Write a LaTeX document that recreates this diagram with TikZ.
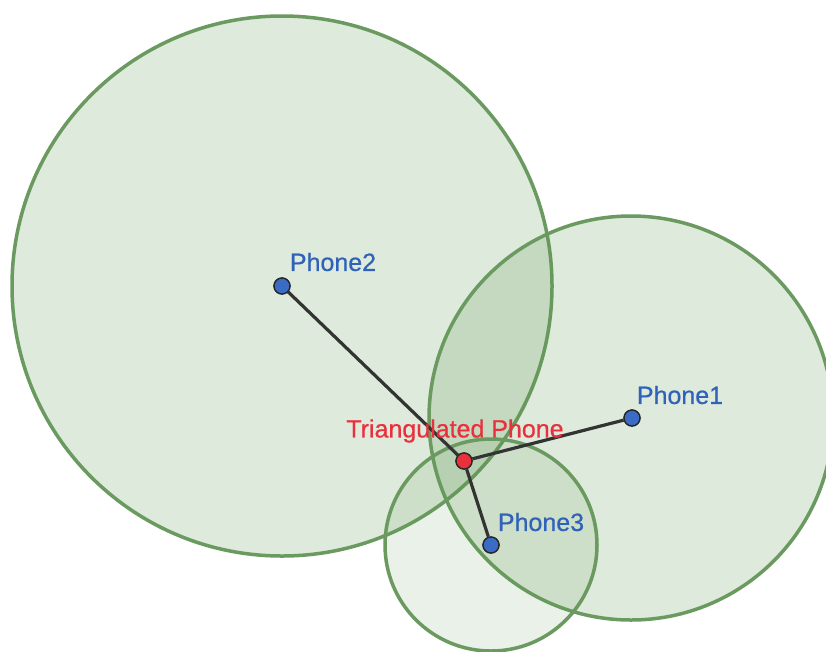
\documentclass[tikz,border=0pt]{standalone}
\usepackage{fontspec}
\setmainfont{Liberation Sans}
\definecolor{ringgreen}{HTML}{6A9A5F}
\definecolor{ringfill}{HTML}{5E9650}
\definecolor{phoneblue}{HTML}{3A6CC6}
\definecolor{labelblue}{HTML}{2F62B8}
\definecolor{trired}{HTML}{E8313D}
\definecolor{linkgray}{HTML}{333333}
\newfontfamily\labelfont[FakeBold=0.6]{Liberation Sans}
\tikzset{
  ring/.style={draw=ringgreen, line width=3.5pt, fill=ringfill, fill opacity=0.2},
  lightring/.style={ring, fill opacity=0.13},
  phonedot/.style={circle, draw=black!85, line width=1.3pt, fill=phoneblue, minimum size=16pt, inner sep=0pt},
  tridot/.style={phonedot, fill=trired},
  link/.style={draw=linkgray, line width=3.2pt},
  lbl/.style={font=\labelfont\fontsize{25}{28}\selectfont, inner sep=0pt, text=labelblue},
  trilbl/.style={lbl, text=trired}
}
\begin{document}
\begin{tikzpicture}[x=1pt,y=-1pt]
\useasboundingbox (0,0) rectangle (826,651);
\fill[white] (0,0) rectangle (826,651);
% coverage circles
\path[ring] (282,286) circle[radius=270];
\path[ring] (631,418) circle[radius=202];
\path[lightring] (491,545) circle[radius=106];
% phones
\node[phonedot] (p2) at (282,286) {};
\node[phonedot] (p1) at (632,418) {};
\node[phonedot] (p3) at (491,545) {};
\node[tridot] (t) at (464,461) {};
% links
\draw[link] (p2) -- (t);
\draw[link] (p1) -- (t);
\draw[link] (p3) -- (t);
% redraw dots on top
\node[phonedot] at (p2) {};
\node[phonedot] at (p1) {};
\node[phonedot] at (p3) {};
\node[tridot] at (t) {};
% labels
\node[lbl] (l2) at (333,262) {Phone2};
\node[lbl] (l1) at (680,395) {Phone1};
\node[lbl] (l3) at (541,522) {Phone3};
\node[trilbl] (lt) at (455,431) {Triangulated Phone};
\end{tikzpicture}
\end{document}
